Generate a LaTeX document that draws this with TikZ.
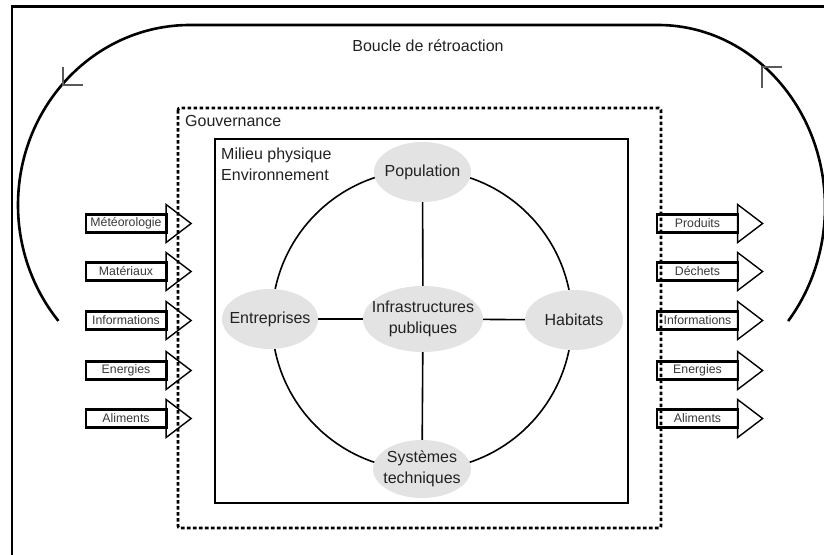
\documentclass[tikz,border=0pt]{standalone}
\usepackage{fontspec}
\setmainfont{Liberation Sans}
\usetikzlibrary{shapes.geometric,calc}
\definecolor{blobgray}{HTML}{E3E3E3}
\definecolor{inktext}{HTML}{222222}
\begin{document}
\begin{tikzpicture}[x=1pt,y=-1pt,
  bigtxt/.style={text=inktext, font=\fontsize{16}{21}\selectfont, inner sep=0pt, align=center},
  blob/.style={ellipse, fill=blobgray, inner sep=0pt},
  flowbox/.style={draw, line width=2.4pt, minimum width=80.6pt, minimum height=18pt, inner sep=0pt,
    font=\fontsize{12.3}{14}\selectfont, text=inktext!90},
  tri/.style={draw, line width=1.4pt, line join=miter},
  link/.style={line width=1.6pt},
  loopline/.style={line width=2.6pt},
  tick/.style={line width=1.3pt, draw=black!65},
  govline/.style={line width=2.8pt, dash pattern=on 3.6pt off 2.4pt, rounded corners=2pt},
  frameline/.style={line width=2.6pt}
]
\useasboundingbox (0,0) rectangle (824,554);

% outer frame (left and top edges)
\draw[frameline] (12,560) -- (12,6.7) -- (830,6.7);

% feedback loop
\begin{scope}[y=1pt]
  \draw[loopline] (190,-25) arc[start angle=90, end angle=220.1, x radius=172, y radius=180];
  \draw[loopline] (190,-25) -- (658,-25)
     arc[start angle=90, end angle=-38.8, x radius=167, y radius=182];
\end{scope}
\draw[tick] (63,67) -- (63,85) -- (83,85);
\draw[tick] (782,67) -- (762,67) -- (762,88);
\node[bigtxt, anchor=base] (title) at (428,51) {Boucle de rétroaction};

% milieu physique box
\node[draw, line width=2.6pt, minimum width=413pt, minimum height=364pt, inner sep=0pt] (milieu) at (421.5,321) {};
\node[bigtxt, align=left, anchor=north west] (milieut) at (221,147.5) {Milieu physique\\Environnement};
\node[bigtxt, anchor=north west] (gouvt) at (185,115) {Gouvernance};

% ring
\node[circle, draw, line width=1.6pt, minimum size=300pt, inner sep=0pt] (ring) at (422,320) {};

% ellipses
\node[blob, minimum width=97pt, minimum height=60pt] (pop) at (422.5,172) {};
\node[blob, minimum width=96pt, minimum height=60pt] (ent) at (270,319) {};
\node[blob, minimum width=120pt, minimum height=66pt] (inf) at (423,319) {};
\node[blob, minimum width=98pt, minimum height=60pt] (hab) at (574,320) {};
\node[blob, minimum width=98pt, minimum height=58pt] (sys) at (422,469) {};
\node[bigtxt] (popt) at (pop.center) {Population};
\node[bigtxt] (entt) at (ent.center) {Entreprises};
\node[bigtxt] (inft) at (inf.center) {Infrastructures\\publiques};
\node[bigtxt] (habt) at (hab.center) {Habitats};
\node[bigtxt] (syst) at (sys.center) {Systèmes\\techniques};

\draw[link] (pop) -- (inf);
\draw[link] (inf) -- (sys);
\draw[link] (ent) -- (inf);
\draw[link] (inf) -- (hab);

% input / output arrows
\foreach \yy/\lab [count=\i] in {223.5/Météorologie, 271.5/Matériaux, 320.5/Informations, 370.5/Energies, 418.5/Aliments}{
  \node[flowbox] (l\i) at (126,\yy) {\lab};
  \draw[tri] ($(l\i.east)+(-1.4,-19)$) -- ($(l\i.east)+(23.6,0)$) -- ($(l\i.east)+(-1.4,19)$) -- cycle;
}
\foreach \yy/\lab [count=\i] in {223.5/Produits, 271.5/Déchets, 320.5/Informations, 370.5/Energies, 418.5/Aliments}{
  \node[flowbox] (r\i) at (697.5,\yy) {\lab};
  \draw[tri] ($(r\i.east)+(-1.4,-19)$) -- ($(r\i.east)+(23.6,0)$) -- ($(r\i.east)+(-1.4,19)$) -- cycle;
}

% gouvernance dashed box
\draw[govline] (178,108) rectangle (661,528);
\end{tikzpicture}
\end{document}
